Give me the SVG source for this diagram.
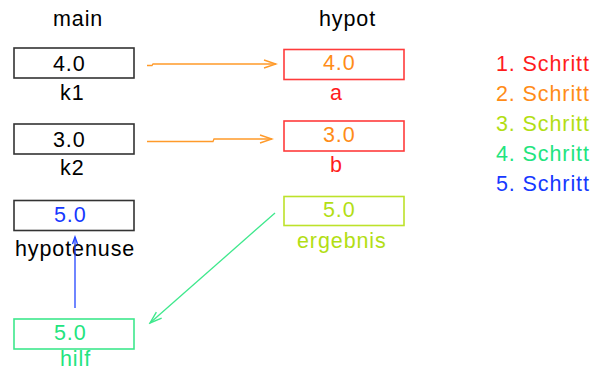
<svg xmlns="http://www.w3.org/2000/svg" width="592" height="371" viewBox="0 0 592 371">
  <style>
    text { font-family: "Liberation Sans", Arial, sans-serif; font-size: 21.5px; letter-spacing: 0.9px; }
    .box { fill: #ffffff; stroke-width: 1.6; }
    .blk { stroke: #333333; }
    .red { stroke: #ff3b3b; }
    .ylw { stroke: #bde22a; }
    .grn { stroke: #3ee88c; }
    .t-blk { fill: #000000; }
    .t-red { fill: #ff1c1c; }
    .t-org { fill: #ff8c18; }
    .t-ylw { fill: #b2de14; }
    .t-grn { fill: #22e47e; }
    .t-blu { fill: #1638ff; }
    .edge { fill: none; stroke-width: 1.3; }
  </style>
  <defs>
    <marker id="head-org" markerUnits="userSpaceOnUse" markerWidth="16" markerHeight="12" refX="14" refY="6" orient="auto">
      <path d="M2,2 L14,6 L2,10" fill="none" stroke="#ff9a2a" stroke-width="1.4"/>
    </marker>
    <marker id="head-grn" markerUnits="userSpaceOnUse" markerWidth="16" markerHeight="12" refX="14" refY="6" orient="auto">
      <path d="M2,2 L14,6 L2,10" fill="none" stroke="#3ee88c" stroke-width="1.4"/>
    </marker>
    <marker id="head-blu" markerUnits="userSpaceOnUse" markerWidth="10" markerHeight="8" refX="8" refY="4" orient="auto">
      <path d="M1,1.5 L8,4 L1,6.5" fill="none" stroke="#2244ff" stroke-width="1.4"/>
    </marker>
  </defs>

  <!-- column headings -->
  <text x="53" y="26" class="t-blk">main</text>
  <text x="319" y="26" class="t-blk">hypot</text>

  <!-- variables of main -->
  <g id="k1">
    <rect class="box blk" x="14" y="48" width="120" height="30"/>
    <text x="53" y="71" class="t-blk">4.0</text>
    <text x="60" y="100" class="t-blk">k1</text>
  </g>
  <g id="k2">
    <rect class="box blk" x="14" y="124" width="120" height="30"/>
    <text x="53" y="147" class="t-blk">3.0</text>
    <text x="60" y="175" class="t-blk">k2</text>
  </g>
  <g id="hypotenuse">
    <rect class="box blk" x="14" y="200.5" width="120" height="30"/>
    <text x="54" y="222" class="t-blu">5.0</text>
    <text x="15" y="256" class="t-blk">hypotenuse</text>
  </g>
  <g id="hilf">
    <rect class="box grn" x="14" y="319" width="120" height="30"/>
    <text x="54" y="340" class="t-grn">5.0</text>
    <text x="60" y="366" class="t-grn">hilf</text>
  </g>

  <!-- variables of hypot -->
  <g id="a">
    <rect class="box red" x="284" y="49.5" width="120" height="30"/>
    <text x="323" y="70" class="t-org">4.0</text>
    <text x="330" y="100" class="t-red">a</text>
  </g>
  <g id="b">
    <rect class="box red" x="284" y="121" width="120" height="30"/>
    <text x="323" y="142" class="t-org">3.0</text>
    <text x="330" y="172" class="t-red">b</text>
  </g>
  <g id="ergebnis">
    <rect class="box ylw" x="284" y="196.5" width="120" height="29"/>
    <text x="323" y="217" class="t-ylw">5.0</text>
    <text x="297" y="248" class="t-ylw">ergebnis</text>
  </g>

  <!-- step legend -->
  <g id="legend">
    <text x="496" y="71" class="t-red" letter-spacing="0.5">1. Schritt</text>
    <text x="496" y="101" class="t-org" letter-spacing="0.5">2. Schritt</text>
    <text x="496" y="131" class="t-ylw" letter-spacing="0.5">3. Schritt</text>
    <text x="496" y="161" class="t-grn" letter-spacing="0.5">4. Schritt</text>
    <text x="496" y="191" class="t-blu" letter-spacing="0.5">5. Schritt</text>
  </g>

  <!-- value flow -->
  <g id="connectors">
    <path class="edge" stroke="#ff9a2a" d="M147,65.5 H152 L153,64 H276" marker-end="url(#head-org)"/>
    <path class="edge" stroke="#ff9a2a" d="M147,141.5 H213 L214,139 H272" marker-end="url(#head-org)"/>
    <path class="edge" stroke="#3ee88c" d="M275,213 L150,323" marker-end="url(#head-grn)"/>
    <path class="edge" stroke="#2244ff" d="M75,308 V237" marker-end="url(#head-blu)"/>
  </g>
</svg>
